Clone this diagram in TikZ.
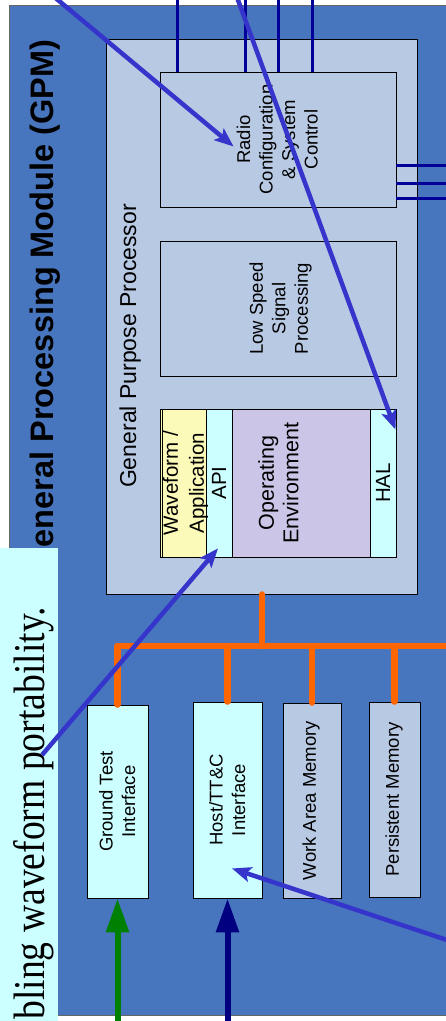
\documentclass[tikz,border=0pt]{standalone}
\usepackage{fontspec}
\setmainfont{Liberation Serif}
\setsansfont{Liberation Sans}
\usepackage{graphicx}
\usetikzlibrary{arrows.meta}
\definecolor{gpmBlue}{HTML}{4876BE}
\definecolor{gppBlue}{HTML}{B8C9E3}
\definecolor{paleCyan}{HTML}{CCFFFF}
\definecolor{paleYellow}{HTML}{FCFAB9}
\definecolor{paleLilac}{HTML}{CBC5E7}
\definecolor{busOrange}{HTML}{FF6600}
\definecolor{ctlBlue}{HTML}{000099}
\definecolor{noteBlue}{HTML}{3535CC}
\definecolor{gndGreen}{HTML}{008000}
\definecolor{hostNavy}{HTML}{000080}
\tikzset{
  box/.style={draw=black, line width=0.9pt, inner sep=0pt},
  lbl/.style={rotate=90, align=center, inner sep=0pt, font=\sffamily\fontsize{18.5}{22.5}\selectfont},
  biglbl/.style={lbl, font=\sffamily\fontsize{20.5}{26}\selectfont},
  bus/.style={busOrange, line width=6.5pt, line cap=round},
  ctl/.style={ctlBlue, line width=3pt},
  note/.style={noteBlue, line width=4.5pt, -{Stealth[length=19pt, width=15pt, inset=4pt]}},
  feed/.style={line width=6pt, -{Triangle[length=34pt, width=22pt]}},
}

\begin{document}
\begin{tikzpicture}[x=1pt, y=-1pt]
    \useasboundingbox (0,0) rectangle (446,1021);
    \clip (0,0) rectangle (446,1021);
    % module frame
    \node[box, draw=black!60, line width=1.2pt, fill=gpmBlue, minimum width=460, minimum height=1010.3, anchor=north west] (gpm) at (8.7,4.7) {};
    \node[rotate=90, anchor=base, inner sep=0pt, font=\sffamily\bfseries\fontsize{32.5}{39}\selectfont] (gpmlbl) at (53,306) {General Processing Module (GPM)};
    % processor
    \node[box, fill=gppBlue, minimum width=311, minimum height=555] (gpp) at (261.5,316.5) {};
    \node[rotate=90, anchor=base, inner sep=0pt, font=\sffamily\fontsize{23}{27}\selectfont] (gpplbl) at (136,346) {General Purpose Processor};
    \node[box, fill=gppBlue, minimum width=236, minimum height=135] (radio) at (278,139.5) {};
    \node[lbl] (radiolbl) at ([xshift=-0.7pt]radio.center) {Radio\\Configuration\\\& System\\Control};
    \node[box, fill=gppBlue, minimum width=236, minimum height=135] (lowspeed) at (278,308.5) {};
    \node[lbl] (lowspeedlbl) at ([xshift=2.5pt]lowspeed.center) {Low Speed\\Signal\\Processing};
    \node[box, fill=paleYellow, minimum width=46, minimum height=148] (wave) at (183,483) {};
    \draw[line width=0.6pt] ([xshift=2.5pt]wave.north west) -- ([xshift=2.5pt]wave.south west);
    \node[box, fill=paleCyan, minimum width=26, minimum height=148] (api) at (219,483) {};
    \node[box, fill=paleLilac, minimum width=138, minimum height=148] (openv) at (301,483) {};
    \node[box, fill=paleCyan, minimum width=26, minimum height=148] (hal) at (383,483) {};
    \node[biglbl] (wavelbl) at ([xshift=2.5pt]wave.center) {Waveform /\\Application};
    \node[biglbl] (apilbl) at (api) {API};
    \node[lbl, font=\sffamily\fontsize{21.5}{24.5}\selectfont] (openvlbl) at ([xshift=-22.5pt]openv.center) {Operating\\Environment};
    \node[biglbl] (hallbl) at (hal) {HAL};
    % control lines
    \foreach \x [count=\i] in {177,245,278,312} {
        \coordinate (up\i) at (\x,-5);
        \draw[ctl] (radio.north -| up\i) -- (up\i);
    }
    \foreach \y [count=\i] in {165,183,198} {
        \coordinate (out\i) at (460,\y);
        \draw[ctl] (radio.east |- out\i) -- (out\i);
    }
    % peripherals
    \node[box, fill=paleCyan, minimum width=61, minimum height=193] (gndtest) at (117.5,801.5) {};
    \node[lbl] (gndtestlbl) at ([xshift=-0.2pt]gndtest.center) {Ground Test\\Interface};
    \node[box, fill=paleCyan, minimum width=69, minimum height=196] (host) at (227.5,800) {};
    \node[lbl] (hostlbl) at ([xshift=-0.2pt]host.center) {Host/TT\&C\\Interface};
    \node[box, fill=gppBlue, minimum width=58, minimum height=195] (workmem) at (312,800.5) {};
    \node[lbl] (workmemlbl) at ([xshift=-1pt]workmem.center) {Work Area Memory};
    \node[box, fill=gppBlue, minimum width=51, minimum height=195] (persmem) at (394.5,799.5) {};
    \node[lbl] (persmemlbl) at ([xshift=-0.5pt]persmem.center) {Persistent Memory};
    % bus
    \coordinate (tap) at (262,646);
    \coordinate (busend) at (470,646);
    \draw[bus] (gpp.south -| tap) -- (tap);
    \draw[bus] (gndtest.north |- tap) -- (busend);
    \foreach \b in {gndtest,host,workmem,persmem}
        \draw[bus] (\b.north |- tap) -- (\b.north);
    % inputs
    \coordinate (gndin) at (118,1040);
    \coordinate (hostin) at (227,1040);
    \draw[feed, gndGreen] (gndtest.south |- gndin) -- (gndtest.south);
    \draw[feed, hostNavy] (host.south |- hostin) -- (host.south);
    % callout
    \node[fill=paleCyan, inner sep=0pt, minimum width=70, minimum height=490, anchor=north east] (callout) at (58,548) {};
    \node[rotate=90, anchor=base east, inner sep=0pt, font=\fontsize{44}{50}\selectfont] (calloutlbl) at (45,607) {\scalebox{0.855}[1]{bling waveform portability.}};
    \coordinate (src1) at (22,-30);
    \coordinate (src2) at (227,-30);
    \coordinate (src3) at (480,951);
    \coordinate (pin) at (42,755);
    \draw[note] (src1) -- ([xshift=-3pt, yshift=-7pt]radiolbl.north);
    \draw[note] (src2) -- ([xshift=-1pt, yshift=-21pt]hal.north east);
    \draw[note] (pin) -- ([xshift=-1pt, yshift=9pt]api.south);
    \draw[note] (src3) -- ([xshift=4.5pt, yshift=30pt]host.south);
\end{tikzpicture}
\end{document}
